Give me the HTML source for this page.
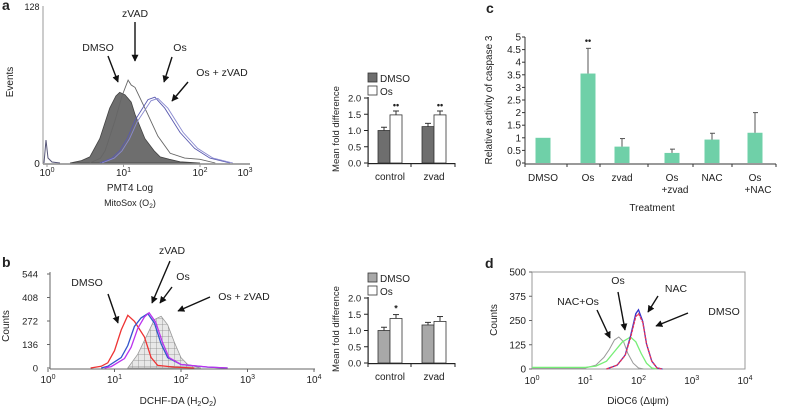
<!DOCTYPE html>
<html><head><meta charset="utf-8">
<style>
html,body{margin:0;padding:0;background:#fff;}
svg{display:block;font-family:"Liberation Sans",sans-serif;}
text{fill:#222;}
</style></head>
<body>
<svg id="fig" width="786" height="409" viewBox="0 0 786 409">
<defs>
<marker id="ah" viewBox="0 0 10 10" refX="9" refY="5" markerWidth="5" markerHeight="5" orient="auto"><path d="M0,0L10,5L0,10z" fill="#111"/></marker>
<pattern id="grid" width="6" height="6" patternUnits="userSpaceOnUse"><rect width="6" height="6" fill="#e8e8e8"/><path d="M0,0H6M0,0V6" stroke="#888" stroke-width="0.8"/></pattern>
</defs>
<g id="root"></g>
</svg>
<script>
// ---------- Panel a histogram data (x in log10 units, counts) ----------
const aDmsoX=[0.3,0.45,0.56,0.69,0.82,0.9,0.95,1.02,1.1,1.15,1.28,1.4,1.48,1.6,1.74,2.0];
const aDmsoY=[0,2,5,20,45,55,58,56,50,40,20,10,5,3,1,0];
const aZvadX=[0.56,0.7,0.76,0.89,0.98,1.06,1.1,1.15,1.28,1.45,1.61,1.8,2.0,2.2];
const aZvadY=[0,4,10,35,55,68,64,62,45,22,8,4,3,0];
const aOsX=[0.69,0.85,0.95,1.05,1.15,1.32,1.41,1.54,1.74,1.93,2.13,2.39];
const aOsY=[0,4,10,20,35,52,54,45,25,12,4,0];
const aOsZvadX=[0.72,0.88,0.98,1.08,1.18,1.36,1.45,1.58,1.78,1.97,2.17,2.43];
const aOsZvadY=[0,4,10,20,34,51,53,45,25,12,4,0];
// ---------- Panel a bars ----------
const aBarGroups=["control","zvad"];
const aBarDmso=[1.0,1.12];
const aBarOs=[1.48,1.48];
const aErrDmso=[0.1,0.1];
const aErrOs=[0.12,0.12];
const aBarTicks=["0.0","0.5","1.0","1.5","2.0"];
// ---------- Panel b histogram ----------
const bDmsoX=[0.64,0.8,0.9,1.0,1.1,1.2,1.3,1.45,1.55,1.65,1.9,2.2];
const bDmsoY=[0,10,30,100,220,305,270,180,60,15,5,0];
const bZvadX=[0.8,0.9,1.1,1.2,1.3,1.4,1.5,1.6,1.7,1.8,2.0,2.4,2.7];
const bZvadY=[0,10,60,130,240,290,315,260,140,60,20,5,0];
const bOsX=[0.85,0.95,1.15,1.25,1.35,1.45,1.52,1.62,1.72,1.82,2.0,2.4,2.7];
const bOsY=[0,8,55,120,230,295,320,265,150,60,20,6,0];
const bOsZvadX=[1.2,1.35,1.5,1.6,1.7,1.8,1.9,2.0,2.1,2.3];
const bOsZvadY=[0,80,200,280,300,250,150,60,20,0];
const bTicks=[0,136,272,408,544];
// ---------- Panel b bars ----------
const bBarDmso=[1.0,1.17];
const bBarOs=[1.37,1.28];
const bErrDmso=[0.1,0.08];
const bErrOs=[0.12,0.15];
// ---------- Panel c ----------
const cCats=[["DMSO"],["Os"],["zvad"],["Os","+zvad"],["NAC"],["Os","+NAC"]];
const cVals=[1.0,3.55,0.65,0.4,0.93,1.2];
const cErrs=[0,1.0,0.32,0.15,0.25,0.8];
const cTicks=["0","0.5","1","1.5","2","2.5","3","3.5","4","4.5","5"];
// ---------- Panel d ----------
const dNacOsX=[0,0.5,1.0,1.2,1.35,1.45,1.55,1.63,1.72,1.8,1.9,2.0,2.1];
const dNacOsY=[5,5,5,20,60,100,150,165,140,80,30,5,0];
const dOsX=[0,0.5,1.0,1.2,1.4,1.55,1.7,1.85,1.95,2.05,2.15,2.25,2.35];
const dOsY=[8,8,8,15,40,90,140,165,140,80,30,5,0];
const dDmsoX=[1.4,1.6,1.75,1.85,1.95,2.0,2.08,2.15,2.25,2.35,2.45];
const dDmsoY=[0,20,70,160,270,285,240,130,40,5,0];
const dNacX=[1.4,1.6,1.75,1.85,1.95,2.0,2.08,2.15,2.25,2.35,2.45];
const dNacY=[0,20,72,170,285,305,245,130,40,5,0];
const dTicks=[0,125,250,375,500];

const NS="http://www.w3.org/2000/svg";
const root=document.getElementById('root');
function el(tag,attrs,parent){const e=document.createElementNS(NS,tag);for(const k in attrs)e.setAttribute(k,attrs[k]);(parent||root).appendChild(e);return e;}
function txt(x,y,s,size,anchor,parent,weight){const t=el('text',{x:x,y:y,'font-size':size,'text-anchor':anchor||'middle',fill:'#222'},parent);if(weight)t.setAttribute('font-weight',weight);t.textContent=s;return t;}
function line(x1,y1,x2,y2,parent,w,c){return el('line',{x1:x1,y1:y1,x2:x2,y2:y2,stroke:c||'#333','stroke-width':w||1},parent);}
function pathFrom(xs,ys,sx,sy,close){let d='';for(let i=0;i<xs.length;i++){d+=(i?'L':'M')+sx(xs[i]).toFixed(1)+','+sy(ys[i]).toFixed(1);}if(close)d+='Z';return d;}
function sup(x,y,exp,parent,size){const t=el('text',{x:x,y:y,'font-size':size||10,'text-anchor':'middle'},parent);t.textContent='10';const s=el('tspan',{dy:-4,'font-size':7},t);s.textContent=exp;return t;}
function arrow(x1,y1,x2,y2,parent){const l=el('line',{x1:x1,y1:y1,x2:x2,y2:y2,stroke:'#111','stroke-width':1.4,'marker-end':'url(#ah)'},parent);return l;}

// ================= Panel a histogram =================
const ga=el('g',{});


txt(2,10,'a',14,'start',ga,'bold');
const ax=v=>47+v*76.5, ay=v=>163-v*(156/128);
const aSpike=el('path',{d:'M44,163L46,140L48,158L52,162L60,163',fill:'none',stroke:'#557','stroke-width':1},ga);

const pa1=el('path',{d:pathFrom(aDmsoX,aDmsoY,ax,ay,true),fill:'#6e6e6e',stroke:'#444','stroke-width':0.8},ga);

const pa2=el('path',{d:pathFrom(aZvadX,aZvadY,ax,ay),fill:'none',stroke:'#666','stroke-width':0.9},ga);

const pa3=el('path',{d:pathFrom(aOsX,aOsY,ax,ay),fill:'none',stroke:'#5a5ab0','stroke-width':0.9},ga);

const pa4=el('path',{d:pathFrom(aOsZvadX,aOsZvadY,ax,ay),fill:'none',stroke:'#8a8ad0','stroke-width':0.9},ga);

line(43,6,43,164,ga,1,'#999');line(43,164,250,164,ga,1.5,'#888');
['0','1','2'].forEach((e,i)=>{line(ax(i),164,ax(i),167,ga,1,'#999');sup(ax(i),176,e,ga);});
sup(245,176,'3',ga);
txt(32,10,'128',9,'middle',ga);txt(37,167,'0',10,'middle',ga);
const ea=txt(13,82,'Events',10,'middle',ga);ea.setAttribute('transform','rotate(-90 13 82)');

txt(130,191,'PMT4 Log',10,'middle',ga);
const ms=txt(130,206,'MitoSox (O',9,'middle',ga);const msb=el('tspan',{dy:2,'font-size':6.5},ms);msb.textContent='2';const msc=el('tspan',{dy:-2},ms);msc.textContent=')';
txt(98,51,'DMSO',10.5,'middle',ga);arrow(108,56,118,82,ga);
txt(135,17,'zVAD',10.5,'middle',ga);arrow(135,22,135,61,ga);
txt(180,51,'Os',10.5,'middle',ga);arrow(172,57,164,82,ga);
txt(222,76,'Os + zVAD',10.5,'middle',ga);arrow(188,82,172,101,ga);

// ================= bar chart helper =================
function groupedBars(g,y0,dmsoVals,osVals,errD,errO,dmsoFill,stars,legY){
  const sy=v=>y0-v*32.5;
  const axV=el('rect',{x:367.5,y:y0-66,width:1.2,height:67,fill:'#222'},g);
  
  const axH=el('rect',{x:367.5,y:y0,width:88,height:1.2,fill:'#222'},g);
  
  aBarTicks.forEach((t,i)=>{
    el('rect',{x:364,y:sy(i*0.5)-0.5,width:4,height:1,fill:'#222'},g);
    const tl=txt(348,sy(i*0.5)+3.5,t,9.5,'start',g);
    
    
  });
  [368,411,455].forEach(x=>el('rect',{x:x-0.5,y:y0+1,width:1,height:3,fill:'#222'},g));
  const starts=[378,422];
  aBarGroups.forEach((gn,i)=>{
    const x=starts[i];
    const r1=el('rect',{x:x,y:sy(dmsoVals[i]),width:12,height:y0-sy(dmsoVals[i]),fill:dmsoFill,stroke:'#333','stroke-width':0.8},g);
    
    
    line(x+6,sy(dmsoVals[i]),x+6,sy(dmsoVals[i]+errD[i]),g);line(x+3,sy(dmsoVals[i]+errD[i]),x+9,sy(dmsoVals[i]+errD[i]),g);
    const r2=el('rect',{x:x+12,y:sy(osVals[i]),width:12,height:y0-sy(osVals[i]),fill:'#fff',stroke:'#333','stroke-width':0.8},g);
    
    
    line(x+18,sy(osVals[i]),x+18,sy(osVals[i]+errO[i]),g);line(x+15,sy(osVals[i]+errO[i]),x+21,sy(osVals[i]+errO[i]),g);
    if(stars[i])txt(x+18,sy(osVals[i]+errO[i])-3,stars[i],9,'middle',g,'bold');
    txt(x+12,y0+17,gn,10,'middle',g);
  });
  const t=txt(339,y0-34,'Mean fold difference',9.5,'middle',g);t.setAttribute('transform','rotate(-90 339 '+(y0-34)+')');
  
  const l1=el('rect',{x:368,y:legY-8,width:9,height:9,fill:dmsoFill,stroke:'#333','stroke-width':0.8},g);
  
  txt(380,legY+1,'DMSO',10,'start',g);
  const l2=el('rect',{x:368,y:legY+5,width:9,height:9,fill:'#fff',stroke:'#333','stroke-width':0.8},g);
  
  txt(380,legY+14,'Os',10,'start',g);
}
const gab=el('g',{});


groupedBars(gab,163,aBarDmso,aBarOs,aErrDmso,aErrOs,'#6e6e6e',['••','••'],81);

// ================= Panel b histogram =================
const gb=el('g',{});


txt(2,267,'b',14,'start',gb,'bold');
const bx=v=>48+v*66.5, by=v=>368-v*(94/544);
const pb4=el('path',{d:pathFrom(bOsZvadX,bOsZvadY,bx,by,true),fill:'url(#grid)',stroke:'#999','stroke-width':0.8},gb);

const pb1=el('path',{d:pathFrom(bDmsoX,bDmsoY,bx,by),fill:'none',stroke:'#e33','stroke-width':1.3},gb);

const pb2=el('path',{d:pathFrom(bZvadX,bZvadY,bx,by),fill:'none',stroke:'#35c','stroke-width':1.3},gb);

const pb3=el('path',{d:pathFrom(bOsX,bOsY,bx,by),fill:'none',stroke:'#b3e','stroke-width':1.3},gb);

line(50,272,50,369,gb,1,'#666');line(50,369,315,369,gb,1,'#666');
bTicks.forEach(t=>{line(47,by(t),50,by(t),gb,1,'#666');txt(38,by(t)+3.5,String(t),9.5,'end',gb);});
[0,1,2,3,4].forEach(e=>{line(bx(e),369,bx(e),372,gb,1,'#666');sup(bx(e),383,String(e),gb);});
const cb=txt(9,326,'Counts',10,'middle',gb);cb.setAttribute('transform','rotate(-90 9 326)');

const dc=txt(178,404,'DCHF-DA (H',10,'middle',gb);const d1=el('tspan',{dy:2,'font-size':7},dc);d1.textContent='2';const d2=el('tspan',{dy:-2},dc);d2.textContent='O';const d3=el('tspan',{dy:2,'font-size':7},dc);d3.textContent='2';const d4=el('tspan',{dy:-2},dc);d4.textContent=')';
txt(87,286,'DMSO',10.5,'middle',gb);arrow(108,294,118,323,gb);
txt(172,254,'zVAD',10.5,'middle',gb);arrow(170,261,152,303,gb);
txt(183,280,'Os',10.5,'middle',gb);arrow(172,287,160,303,gb);
txt(244,300,'Os + zVAD',10.5,'middle',gb);arrow(210,297,178,311,gb);

const gbb=el('g',{});


groupedBars(gbb,363,bBarDmso,bBarOs,bErrDmso,bErrOs,'#a8a8a8',['*',''],281);

// ================= Panel c =================
const gc=el('g',{});


txt(486,13,'c',14,'start',gc,'bold');
const cy=v=>163-v*25.2;
const cx=[543,588,622,672,712,755];
line(525,37,525,164,gc);line(525,164,776,164,gc);
cTicks.forEach((t,i)=>{line(522,cy(i*0.5),525,cy(i*0.5),gc);txt(521,cy(i*0.5)+3.5,t,10,'end',gc);});
[525,567,600,648,693,732,776].forEach(x=>line(x,164,x,167,gc));
cCats.forEach((c,i)=>{
  const r=el('rect',{x:cx[i]-7.5,y:cy(cVals[i]),width:15,height:163-cy(cVals[i]),fill:'#6fd0a8'},gc);
  
  
  if(cErrs[i]>0){line(cx[i],cy(cVals[i]),cx[i],cy(cVals[i]+cErrs[i]),gc,1,'#555');line(cx[i]-2,cy(cVals[i]+cErrs[i]),cx[i]+3,cy(cVals[i]+cErrs[i]),gc,1,'#555');}
  c.forEach((s,j)=>txt(cx[i]+(j?3:0),181+j*12,s,10,'middle',gc));
});
txt(588,cy(cVals[1]+cErrs[1])-5,'••',9,'middle',gc,'bold');
txt(652,211,'Treatment',10,'middle',gc);
const ct=txt(492,100,'Relative activity of caspase 3',10,'middle',gc);ct.setAttribute('transform','rotate(-90 492 100)');


// ================= Panel d =================
const gd=el('g',{});


txt(485,268,'d',14,'start',gd,'bold');
const dx=v=>532+v*53.25, dy=v=>369-v*(97/500);
el('rect',{x:532,y:272,width:213,height:97,fill:'none',stroke:'#999','stroke-width':1},gd);
const pd1=el('path',{d:pathFrom(dNacOsX,dNacOsY,dx,dy),fill:'none',stroke:'#999','stroke-width':1},gd);

const pd2=el('path',{d:pathFrom(dOsX,dOsY,dx,dy),fill:'none',stroke:'#7e7','stroke-width':1.3},gd);

const pd4=el('path',{d:pathFrom(dNacX,dNacY,dx,dy),fill:'none',stroke:'#33c','stroke-width':1.3},gd);

const pd3=el('path',{d:pathFrom(dDmsoX,dDmsoY,dx,dy),fill:'none',stroke:'#e35','stroke-width':1.3,'stroke-dasharray':'3 1'},gd);

dTicks.forEach(t=>{line(529,dy(t),532,dy(t),gd,1,'#666');txt(526,dy(t)+3.5,String(t),10,'end',gd);});
[0,1,2,3,4].forEach(e=>{sup(dx(e),384,String(e),gd);});
const cd=txt(497,320,'Counts',10,'middle',gd);cd.setAttribute('transform','rotate(-90 497 320)');

txt(638,404,'DiOC6 (Δψm)',10,'middle',gd);
txt(618,284,'Os',10.5,'middle',gd);arrow(618,292,625,330,gd);
txt(578,305,'NAC+Os',10.5,'middle',gd);arrow(597,310,610,338,gd);
txt(676,292,'NAC',10.5,'middle',gd);arrow(658,296,648,312,gd);
txt(724,315,'DMSO',10.5,'middle',gd);arrow(688,313,656,326,gd);
</script>
</body></html>
